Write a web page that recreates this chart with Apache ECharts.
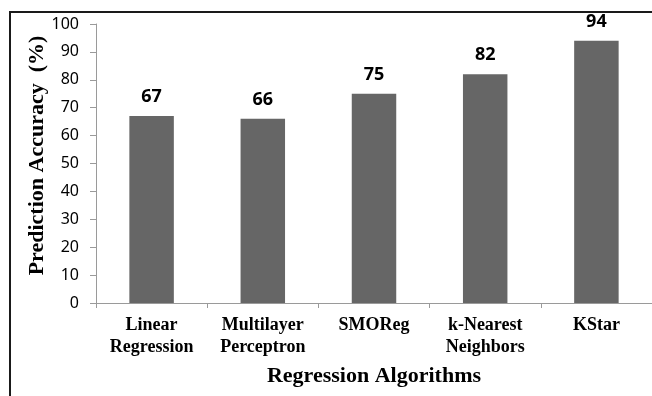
<!DOCTYPE html>
<html>
<head>
<meta charset="utf-8">
<script src="https://cdn.jsdelivr.net/npm/echarts@6/dist/echarts.min.js"></script>
<style>
  html, body { margin: 0; padding: 0; background: #fff; }
  #chart { width: 652px; height: 396px; }
</style>
</head>
<body>
<div id="chart"></div>
<script>
// data
let algorithms = ['Linear\nRegression', 'Multilayer\nPerceptron', 'SMOReg', 'k-Nearest\nNeighbors', 'KStar'];
let accuracy = [67, 66, 75, 82, 94];

let chart = echarts.init(document.getElementById('chart'));

let option = {
  backgroundColor: '#ffffff',
  animation: false,
  grid: {
    left: 96,
    top: 24,
    width: 558,
    height: 279
  },
  graphic: [
    {
      type: 'polyline',
      shape: { points: [[10, 396], [10, 12], [652, 12]] },
      style: { stroke: '#1a1a1a', lineWidth: 2, fill: null }
    }
  ],
  xAxis: {
    type: 'category',
    data: algorithms,
    name: 'Regression Algorithms',
    nameLocation: 'middle',
    nameGap: 62,
    nameTextStyle: {
      fontFamily: 'Liberation Serif',
      fontWeight: 'bold',
      fontSize: 22,
      color: '#000'
    },
    axisLine: { lineStyle: { color: '#9a9a9a', width: 1 } },
    axisTick: { show: true, length: 5, lineStyle: { color: '#9a9a9a' } },
    axisLabel: {
      interval: 0,
      margin: 11,
      fontFamily: 'Liberation Serif',
      fontWeight: 'bold',
      fontSize: 18,
      lineHeight: 22,
      color: '#000'
    }
  },
  yAxis: {
    type: 'value',
    min: 0,
    max: 100,
    interval: 10,
    name: 'Prediction Accuracy  (%)',
    nameLocation: 'middle',
    nameRotate: 90,
    nameGap: 48,
    nameMoveOverlap: false,
    nameTextStyle: {
      fontFamily: 'Liberation Serif',
      fontWeight: 'bold',
      fontSize: 22,
      color: '#000',
      padding: [0, 0, 0, 16]
    },
    axisLine: { show: true, lineStyle: { color: '#9a9a9a', width: 1 } },
    axisTick: { show: true, length: 6, lineStyle: { color: '#9a9a9a' } },
    splitLine: { show: false },
    axisLabel: {
      margin: 17,
      fontFamily: 'Noto Sans',
      fontSize: 16,
      color: '#000'
    }
  },
  series: [
    {
      type: 'bar',
      data: accuracy,
      barWidth: '40%',
      itemStyle: { color: '#666666' },
      label: {
        show: true,
        position: 'top',
        distance: 10,
        fontFamily: 'Noto Sans',
        fontWeight: 'bold',
        fontSize: 18,
        color: '#000'
      }
    }
  ]
};

chart.setOption(option);
</script>
</body>
</html>
